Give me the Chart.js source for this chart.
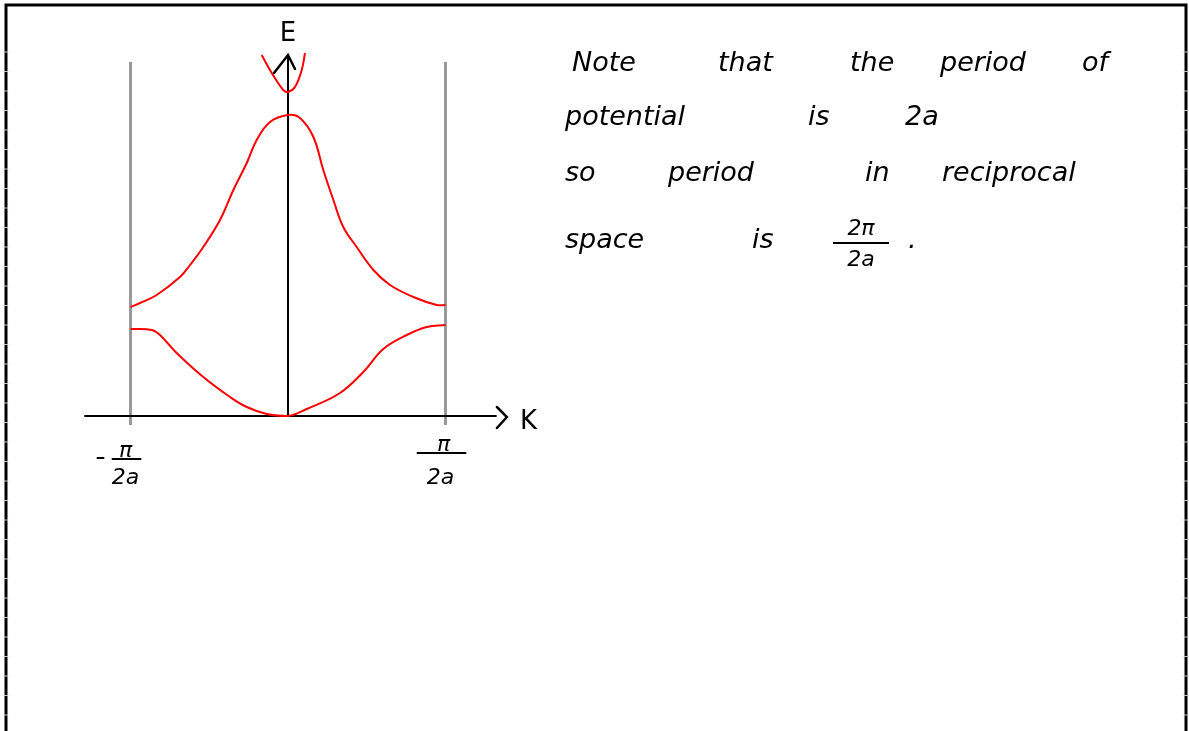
<!DOCTYPE html>
<html>
<head>
<meta charset="utf-8">
<script src="https://cdn.jsdelivr.net/npm/chart.js@4/dist/chart.umd.min.js"></script>
<style>
  html, body { margin: 0; padding: 0; background: #fff; }
  #wrap { position: relative; width: 1189px; height: 731px; overflow: hidden; }
  #bands { position: absolute; left: 0; top: 0; }
  .note { position: absolute; font-family: "DejaVu Sans", sans-serif; font-style: italic; font-weight: 300;
          font-size: 27px; color: #000; white-space: nowrap; line-height: 1; }
  .frac { position: absolute; font-family: "DejaVu Sans", sans-serif; font-style: italic; font-size: 22px;
          text-align: center; line-height: 1; }
  .frac .bar { border-top: 2px solid #000; margin: 3px 0 4px 0; }
</style>
</head>
<body>
<div id="wrap">
  <canvas id="bands" width="1189" height="731"></canvas>

  <!-- side note -->
  <div class="note" style="left:572px;top:48px">Note</div>
  <div class="note" style="left:718px;top:48px">that</div>
  <div class="note" style="left:850px;top:48px">the</div>
  <div class="note" style="left:940px;top:48px">period</div>
  <div class="note" style="left:1082px;top:48px">of</div>

  <div class="note" style="left:565px;top:102px">potential</div>
  <div class="note" style="left:808px;top:102px">is</div>
  <div class="note" style="left:905px;top:102px">2a</div>

  <div class="note" style="left:565px;top:158px">so</div>
  <div class="note" style="left:668px;top:158px">period</div>
  <div class="note" style="left:865px;top:158px">in</div>
  <div class="note" style="left:942px;top:158px">reciprocal</div>

  <div class="note" style="left:565px;top:225px">space</div>
  <div class="note" style="left:752px;top:225px">is</div>
  <div class="frac" style="left:833px;top:217px;width:56px"><div>2π</div><div class="bar"></div><div>2a</div></div>
  <div class="note" style="left:908px;top:225px">.</div>
</div>

<script>
// k in units of pi/2a, E in arbitrary units
const zoneEdges = [-1, 1];
const zoneLabels = ["-π", "π"];

// lower band
const lowerK = [-1.0, -0.865, -0.813, -0.707, -0.538, -0.368, -0.262, -0.135, 0.0, 0.119, 0.33, 0.478, 0.605, 0.754, 0.881, 1.0];
const lowerE = [0.87, 0.86, 0.81, 0.63, 0.39, 0.19, 0.09, 0.02, 0.0, 0.07, 0.23, 0.44, 0.67, 0.81, 0.89, 0.91];

// upper band
const upperK = [-1.0, -0.94, -0.834, -0.686, -0.622, -0.538, -0.432, -0.347, -0.262, -0.199, -0.114, 0.0,
                0.076, 0.161, 0.224, 0.288, 0.351, 0.436, 0.542, 0.648, 0.796, 0.944, 1.0];
const upperE = [1.09, 1.13, 1.21, 1.39, 1.51, 1.69, 1.96, 2.26, 2.53, 2.76, 2.94, 3.01,
                2.98, 2.79, 2.46, 2.16, 1.89, 1.69, 1.46, 1.31, 1.19, 1.11, 1.11];

// start of the next band at k = 0
const nextK = [-0.167, -0.103, -0.03, 0.0, 0.044, 0.087, 0.108];
const nextE = [3.61, 3.43, 3.26, 3.24, 3.29, 3.46, 3.63];

const xMin = -1.289, xMax = 1.346;
const yMin = 0, yMax = 3.96;

function toPoints(ks, es) {
    return ks.map((k, i) => ({ x: k, y: es[i] }));
}

function band(ks, es) {
    return {
        data: toPoints(ks, es),
        showLine: true,
        borderColor: "#ff0000",
        borderWidth: 2,
        pointRadius: 0,
        tension: 0.4,
        fill: false,
        clip: false
    };
}

// Axes, zone boundaries, frame and labels
const sketchAxes = {
    id: "sketchAxes",
    beforeDatasetsDraw(chart) {
        const ctx = chart.ctx;
        const x = chart.scales.x, y = chart.scales.y;
        const y0 = y.getPixelForValue(0);

        ctx.save();
        ctx.lineCap = "round";

        // frame
        ctx.strokeStyle = "#000";
        ctx.lineWidth = 3;
        ctx.beginPath();
        ctx.moveTo(6, 731);
        ctx.lineTo(6, 5);
        ctx.lineTo(1186, 5);
        ctx.lineTo(1186, 731);
        ctx.stroke();

        // faint ruling ticks along the frame
        ctx.strokeStyle = "#c4c4c4";
        ctx.lineWidth = 1;
        for (let t = 52; t < 731; t += 19.5) {
            ctx.beginPath();
            ctx.moveTo(4, t); ctx.lineTo(8, t);
            ctx.moveTo(1184, t); ctx.lineTo(1188, t);
            ctx.stroke();
        }

        // Brillouin zone boundaries
        ctx.strokeStyle = "#999";
        ctx.lineWidth = 3;
        ctx.lineCap = "butt";
        zoneEdges.forEach(k => {
            const px = x.getPixelForValue(k);
            ctx.beginPath();
            ctx.moveTo(px, y.getPixelForValue(3.54));
            ctx.lineTo(px, y.getPixelForValue(-0.09));
            ctx.stroke();
        });

        // k axis
        ctx.lineCap = "round";
        ctx.strokeStyle = "#000";
        ctx.lineWidth = 2;
        const xEnd = x.getPixelForValue(1.32);
        ctx.beginPath();
        ctx.moveTo(x.getPixelForValue(xMin), y0);
        ctx.lineTo(xEnd, y0);
        ctx.stroke();
        ctx.lineWidth = 2.5;
        ctx.beginPath();
        ctx.moveTo(xEnd + 1, y0 - 9);
        ctx.lineTo(xEnd + 11, y0 + 1);
        ctx.lineTo(xEnd + 1, y0 + 12);
        ctx.stroke();

        // E axis
        const e0 = x.getPixelForValue(0);
        const eTop = y.getPixelForValue(3.61);
        ctx.lineWidth = 2;
        ctx.beginPath();
        ctx.moveTo(e0, y0);
        ctx.lineTo(e0, eTop);
        ctx.stroke();
        ctx.lineWidth = 2.5;
        ctx.beginPath();
        ctx.moveTo(e0 - 14, eTop + 18);
        ctx.lineTo(e0, eTop);
        ctx.lineTo(e0 + 7, eTop + 14);
        ctx.stroke();

        // axis names
        ctx.fillStyle = "#000";
        ctx.font = "26px 'DejaVu Sans', sans-serif";
        ctx.textAlign = "center";
        ctx.textBaseline = "alphabetic";
        ctx.fillText("E", e0, eTop - 14);
        ctx.textAlign = "left";
        ctx.fillText("K", xEnd + 24, y0 + 13);

        // zone edge labels as fractions
        ctx.font = "italic 22px 'DejaVu Sans', sans-serif";
        ctx.textAlign = "center";
        ctx.lineWidth = 2;
        zoneEdges.forEach((k, i) => {
            const px = x.getPixelForValue(k);
            const neg = zoneLabels[i].startsWith("-");
            const barY = neg ? y0 + 43 : y0 + 37;
            const half = neg ? 13 : 23;
            ctx.fillText("π", px - (neg ? 5 : 2), barY - 2);
            ctx.beginPath();
            ctx.moveTo(px - half - 5, barY);
            ctx.lineTo(px + half - 3, barY);
            ctx.stroke();
            ctx.fillText("2a", px - 5, y0 + 68);
            if (neg) {
                ctx.beginPath();
                ctx.moveTo(px - 33, y0 + 42);
                ctx.lineTo(px - 27, y0 + 42);
                ctx.stroke();
            }
        });

        ctx.restore();
    }
};

new Chart(document.getElementById("bands"), {
    type: "scatter",
    data: {
        datasets: [
            band(lowerK, lowerE),
            band(upperK, upperE),
            band(nextK, nextE)
        ]
    },
    options: {
        responsive: false,
        animation: false,
        devicePixelRatio: 1,
        layout: {
            padding: { left: 85, right: 1189 - 500, top: 20, bottom: 731 - 416 }
        },
        scales: {
            x: { type: "linear", min: xMin, max: xMax, display: false },
            y: { type: "linear", min: yMin, max: yMax, display: false }
        },
        plugins: {
            legend: { display: false },
            tooltip: { enabled: false }
        }
    },
    plugins: [sketchAxes]
});
</script>
</body>
</html>
